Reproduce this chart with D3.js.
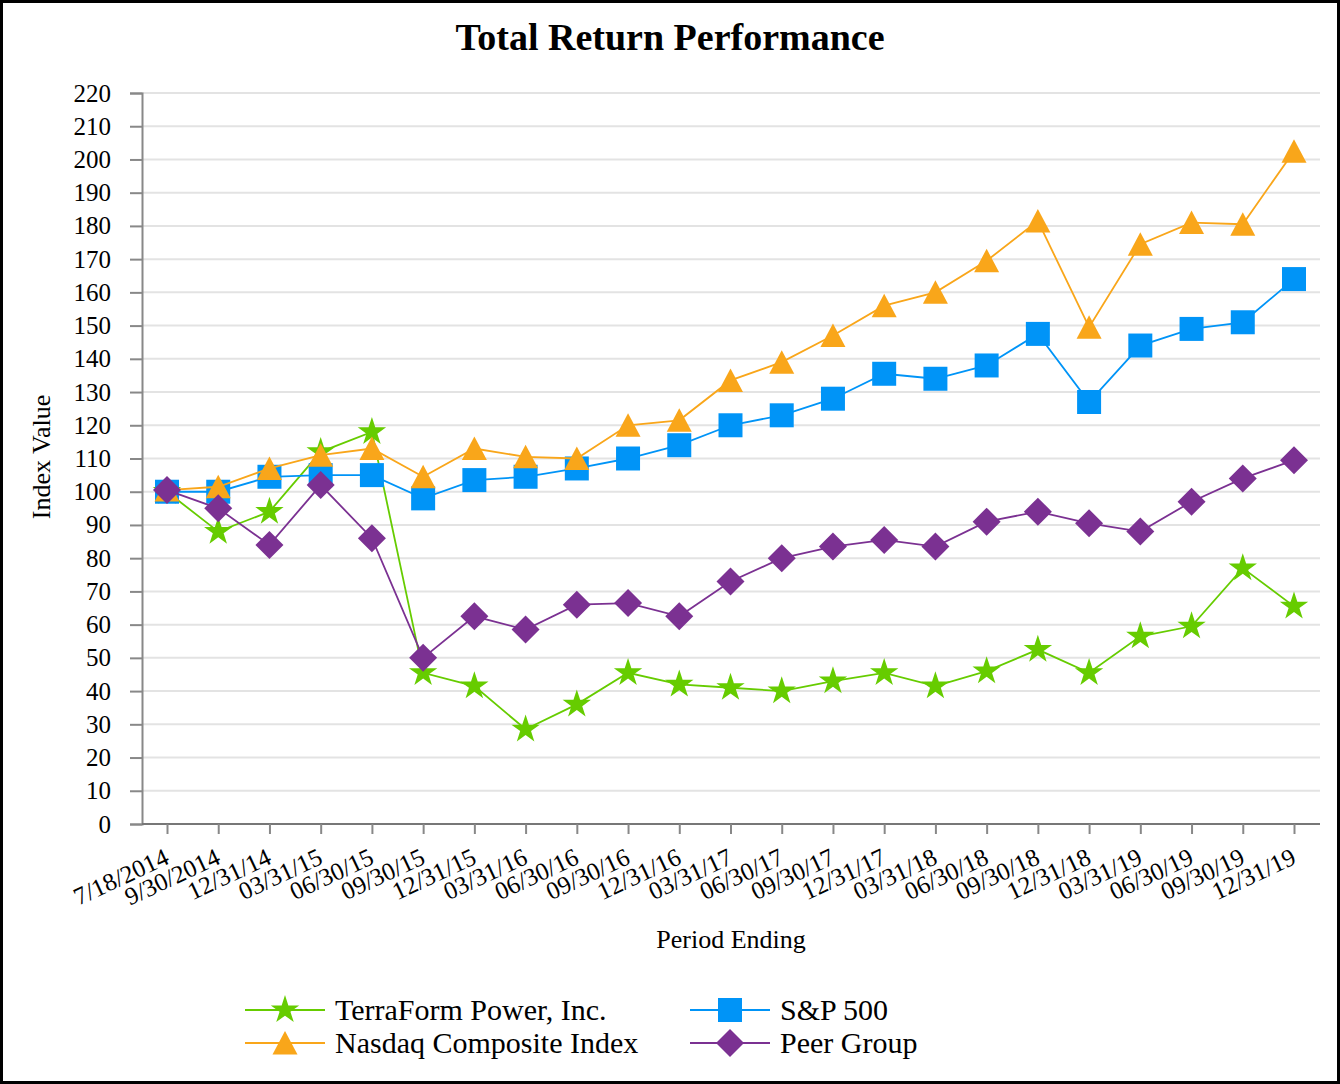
<!DOCTYPE html>
<html>
<head>
<meta charset="utf-8">
<script src="https://cdn.jsdelivr.net/npm/d3@7"></script>
<style>
  body { margin: 0; background: #fff; }
  svg { display: block; font-family: "Liberation Serif", "Times New Roman", serif; }
</style>
</head>
<body>
<div id="chart"></div>
<script>
const periods = ["7/18/2014", "9/30/2014", "12/31/14", "03/31/15", "06/30/15", "09/30/15", "12/31/15",
  "03/31/16", "06/30/16", "09/30/16", "12/31/16", "03/31/17", "06/30/17", "09/30/17", "12/31/17",
  "03/31/18", "06/30/18", "09/30/18", "12/31/18", "03/31/19", "06/30/19", "09/30/19", "12/31/19"];

const terraform = [100, 88, 94, 112, 118, 45.5, 41.5, 28.5, 36, 45.5, 42, 41, 40, 43, 45.5, 41.5, 46, 52.5, 45.5, 56.5, 59.5, 77, 65.5];
const nasdaq = [100.5, 101.5, 107, 111, 113, 104.5, 113, 110.5, 110, 120, 121.5, 133.5, 139, 147, 156, 160, 169.5, 181.5, 149.5, 174.5, 181, 180.5, 202.5];
const sp500 = [100, 100, 104.5, 105, 105, 98, 103.5, 104.5, 107, 110, 114, 120, 123, 128, 135.5, 134, 138, 147.5, 127, 144, 149, 151, 164];
const peer = [100.5, 95, 84, 102, 86, 50, 62.5, 58.5, 66, 66.5, 62.5, 73, 80, 83.5, 85.5, 83.5, 91, 94, 90.5, 88, 97, 104, 109.5];

const yTicks = d3.range(0, 221, 10);

// marker shapes (bbox centred on the data point)
const star = d3.symbol(d3.symbolStar, 250)();
const square = "M-12,-12H12V12H-12Z";
const triangle = "M0,-12L12.5,11.5H-12.5Z";
const diamond = "M0,-14L14,0L0,14L-14,0Z";

const series = [
  { name: "TerraForm Power, Inc.", values: terraform, color: "#66cc00", shape: star },
  { name: "S&P 500", values: sp500, color: "#0094f7", shape: square },
  { name: "Nasdaq Composite Index", values: nasdaq, color: "#f9a61a", shape: triangle },
  { name: "Peer Group", values: peer, color: "#7b3192", shape: diamond }
];

const W = 1340, H = 1084;
const svg = d3.select("#chart").append("svg").attr("width", W).attr("height", H);

svg.append("rect").attr("x", 1.5).attr("y", 1.5).attr("width", W - 3).attr("height", H - 3)
  .attr("fill", "#fff").attr("stroke", "#000").attr("stroke-width", 3);

svg.append("text").attr("x", 670).attr("y", 50).attr("text-anchor", "middle")
  .attr("font-size", 38).attr("font-weight", "bold").text("Total Return Performance");

const plotLeft = 142, plotRight = 1320, plotTop = 93, plotBottom = 824;

const x = d3.scalePoint().domain(periods).range([167, 1294]);
const y = d3.scaleLinear().domain([0, 220]).range([plotBottom, plotTop]);

// gridlines
svg.append("g").selectAll("line").data(yTicks.filter(d => d > 0)).join("line")
  .attr("x1", plotLeft).attr("x2", plotRight)
  .attr("y1", d => y(d)).attr("y2", d => y(d))
  .attr("stroke", "#e3e3e3").attr("stroke-width", 2);

// y axis
const yAxis = svg.append("g").attr("transform", `translate(${plotLeft},0)`)
  .call(d3.axisLeft(y).tickValues(yTicks).tickSize(12).tickPadding(19));
yAxis.attr("font-family", null).attr("font-size", null);
yAxis.select(".domain").attr("stroke", "#888").attr("stroke-width", 2);
yAxis.selectAll(".tick line").attr("stroke", "#888").attr("stroke-width", 2);
yAxis.selectAll(".tick text").attr("font-size", 25).attr("fill", "#000");

// x axis
const xAxis = svg.append("g").attr("transform", `translate(0,${plotBottom})`)
  .call(d3.axisBottom(x).tickSize(10).tickSizeOuter(0));
xAxis.attr("font-family", null).attr("font-size", null);
xAxis.select(".domain").attr("d", `M${plotLeft},0H${plotRight}`).attr("stroke", "#777").attr("stroke-width", 2);
xAxis.selectAll(".tick line").attr("stroke", "#888").attr("stroke-width", 2);
xAxis.selectAll(".tick text").attr("font-size", 25).attr("fill", "#000")
  .attr("text-anchor", "end").attr("dy", null).attr("y", 0)
  .attr("transform", "translate(3,39) rotate(-25)");

svg.append("text").attr("transform", "translate(50,457) rotate(-90)")
  .attr("text-anchor", "middle").attr("font-size", 26).text("Index Value");
svg.append("text").attr("x", 731).attr("y", 948).attr("text-anchor", "middle")
  .attr("font-size", 26).text("Period Ending");

const line = d3.line().x((d, i) => x(periods[i])).y(d => y(d));

series.forEach(s => {
  const g = svg.append("g");
  g.append("path").datum(s.values).attr("d", line)
    .attr("fill", "none").attr("stroke", s.color).attr("stroke-width", 1.8);
  g.selectAll("path.m").data(s.values).join("path").attr("class", "m")
    .attr("transform", (d, i) => `translate(${x(periods[i])},${y(d)})`)
    .attr("d", s.shape).attr("fill", s.color);
});

// legend
const legendItems = [
  { s: series[0], lx: 245, ly: 1010 },
  { s: series[2], lx: 245, ly: 1043 },
  { s: series[1], lx: 690, ly: 1010 },
  { s: series[3], lx: 690, ly: 1043 }
];
const lg = svg.append("g");
legendItems.forEach(it => {
  lg.append("line").attr("x1", it.lx).attr("x2", it.lx + 80).attr("y1", it.ly).attr("y2", it.ly)
    .attr("stroke", it.s.color).attr("stroke-width", 2);
  lg.append("path").attr("transform", `translate(${it.lx + 40},${it.ly})`)
    .attr("d", it.s.shape).attr("fill", it.s.color);
  lg.append("text").attr("x", it.lx + 90).attr("y", it.ly + 10).attr("font-size", 30).text(it.s.name);
});
</script>
</body>
</html>
